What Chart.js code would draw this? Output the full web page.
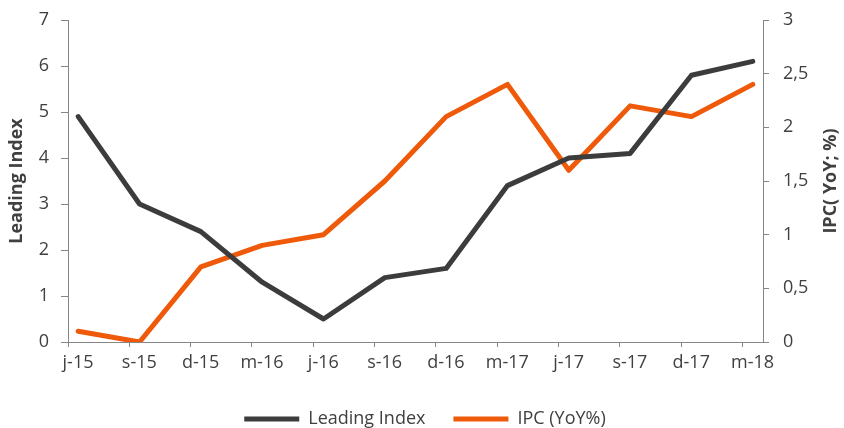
<!DOCTYPE html>
<html>
<head>
<meta charset="utf-8">
<script src="https://cdn.jsdelivr.net/npm/chart.js@4.4.1/dist/chart.umd.min.js"></script>
<style>
  html, body { margin: 0; padding: 0; background: #ffffff; overflow: hidden; }
  #wrap { width: 844px; height: 438px; }
</style>
</head>
<body>
<div id="wrap"><canvas id="chart" width="844" height="438"></canvas></div>
<script>
// Quarterly periods (months are 3 apart on the time axis)
const categories = ['j-15', 's-15', 'd-15', 'm-16', 'j-16', 's-16', 'd-16', 'm-17', 'j-17', 's-17', 'd-17', 'm-18'];
const leadingIndex = [4.9, 3.0, 2.4, 1.3, 0.5, 1.4, 1.6, 3.4, 4.0, 4.1, 5.8, 6.1];
const ipcYoY = [0.1, 0.0, 0.7, 0.9, 1.0, 1.5, 2.1, 2.4, 1.6, 2.2, 2.1, 2.4];
const leftTicks = [0, 1, 2, 3, 4, 5, 6, 7];
const rightTicks = [0, 0.5, 1, 1.5, 2, 2.5, 3];

const MONTHS_PER_STEP = 3;
const TOTAL_MONTHS = MONTHS_PER_STEP * (categories.length - 1) + 1;
// each observation sits in the middle of its month slot
const toPoints = vals => vals.map((v, i) => ({ x: MONTHS_PER_STEP * i + 0.5, y: v }));

const FONT = 'Open Sans';
const TEXT = '#404040';
const AXIS = '#868686';
const DARK = '#3c3c3c';
const ORANGE = '#EE5A0A';

const axisTitles = {
  id: 'axisTitles',
  afterDraw(chart) {
    const { ctx, chartArea } = chart;
    const midY = (chartArea.top + chartArea.bottom) / 2;
    const drawVertical = (text, x) => {
      ctx.save();
      ctx.fillStyle = TEXT;
      ctx.font = 'bold 18px "' + FONT + '"';
      ctx.textAlign = 'center';
      ctx.textBaseline = 'middle';
      ctx.translate(x, midY);
      ctx.rotate(-Math.PI / 2);
      ctx.fillText(text, 0, 0);
      ctx.restore();
    };
    drawVertical('Leading Index', 17);
    drawVertical('IPC( YoY; %)', 831);
  }
};

// value axes: fixed width, no extra room reserved for the end labels
const fitValueAxis = width => scale => {
  scale.width = width;
  scale.paddingTop = 0;
  scale.paddingBottom = 0;
};

new Chart(document.getElementById('chart'), {
  type: 'line',
  data: {
    datasets: [
      {
        label: 'Leading Index',
        data: toPoints(leadingIndex),
        yAxisID: 'y',
        borderColor: DARK,
        backgroundColor: DARK,
        borderWidth: 5,
        pointRadius: 0,
        borderCapStyle: 'round',
        borderJoinStyle: 'round',
        tension: 0
      },
      {
        label: 'IPC (YoY%)',
        data: toPoints(ipcYoY),
        yAxisID: 'y1',
        borderColor: ORANGE,
        backgroundColor: ORANGE,
        borderWidth: 5,
        pointRadius: 0,
        borderCapStyle: 'round',
        borderJoinStyle: 'round',
        tension: 0
      }
    ]
  },
  plugins: [axisTitles],
  options: {
    responsive: false,
    animation: false,
    layout: { padding: { top: 20, left: 6, right: 0, bottom: 0 } },
    scales: {
      x: {
        type: 'linear',
        min: 0,
        max: TOTAL_MONTHS,
        afterBuildTicks(scale) {
          scale.ticks = categories.map((_, i) => ({ value: MONTHS_PER_STEP * i }));
        },
        afterFit(scale) { scale.height = 40; },
        ticks: {
          autoSkip: false,
          maxRotation: 0,
          labelOffset: 10,
          padding: 5,
          color: TEXT,
          font: { family: FONT, size: 18 },
          callback: (v, i) => categories[i]
        },
        grid: { drawOnChartArea: false, drawTicks: true, tickLength: 5, color: AXIS },
        border: { display: true, color: AXIS, width: 1 }
      },
      y: {
        position: 'left',
        min: 0,
        max: 7,
        afterBuildTicks(scale) { scale.ticks = leftTicks.map(v => ({ value: v })); },
        afterFit: fitValueAxis(62),
        ticks: {
          padding: 12,
          color: TEXT,
          font: { family: FONT, size: 18 }
        },
        grid: { drawOnChartArea: false, drawTicks: true, tickLength: 7, color: AXIS },
        border: { display: true, color: AXIS, width: 1 }
      },
      y1: {
        position: 'right',
        min: 0,
        max: 3,
        afterBuildTicks(scale) { scale.ticks = rightTicks.map(v => ({ value: v })); },
        afterFit: fitValueAxis(81),
        ticks: {
          padding: 14,
          color: TEXT,
          font: { family: FONT, size: 18 },
          callback: v => String(v).replace('.', ',')
        },
        grid: { drawOnChartArea: false, drawTicks: true, tickLength: 6, color: AXIS },
        border: { display: true, color: AXIS, width: 1 }
      }
    },
    plugins: {
      tooltip: { enabled: false },
      legend: {
        position: 'bottom',
        labels: {
          boxWidth: 55,
          boxHeight: 5,
          padding: 28,
          color: TEXT,
          font: { family: FONT, size: 18 },
          generateLabels(chart) {
            return chart.data.datasets.map((ds, i) => ({
              text: ds.label,
              fillStyle: ds.borderColor,
              strokeStyle: ds.borderColor,
              lineWidth: 0,
              fontColor: TEXT,
              datasetIndex: i,
              hidden: false
            }));
          }
        }
      }
    }
  }
});
</script>
</body>
</html>
